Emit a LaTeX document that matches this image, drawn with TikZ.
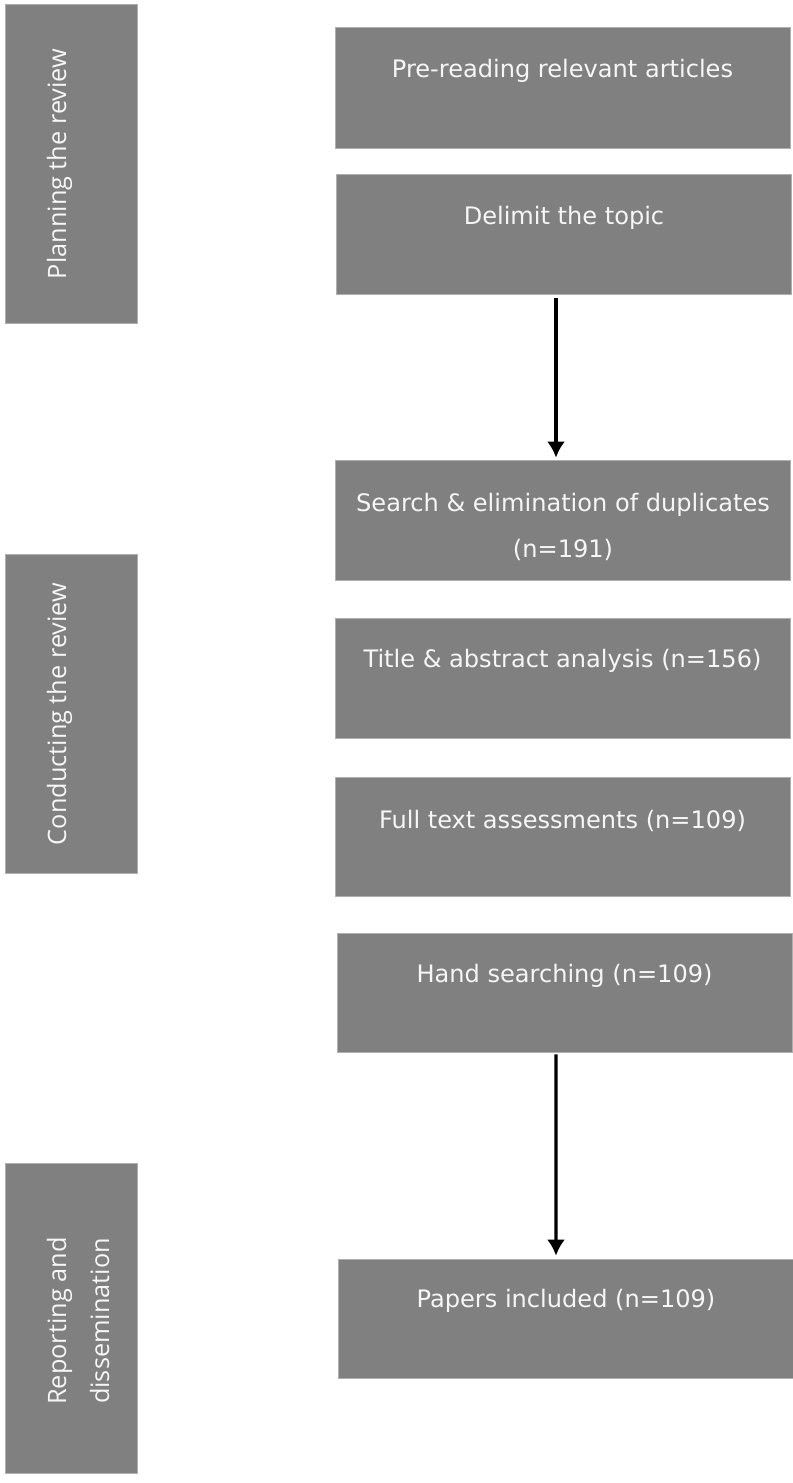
\documentclass[tikz,border=0pt]{standalone}
\usepackage{fontspec}
\newfontfamily\boxfont{DejaVu Sans}
\newfontfamily\sidefont{Open Sans}
\usetikzlibrary{arrows.meta}
\definecolor{boxgray}{RGB}{128,128,128}
\definecolor{boxedge}{RGB}{175,175,175}
\definecolor{boxtext}{RGB}{246,246,246}
\tikzset{
	phasebox/.style={fill=boxgray, draw=boxedge, line width=0.4pt, minimum width=2.64cm, inner sep=0pt},
	stepbox/.style={fill=boxgray, draw=boxedge, line width=0.4pt, minimum width=9.1cm, minimum height=2.4cm, inner sep=0pt},
	steptext/.style={text=boxtext, font=\boxfont\fontsize{13.7}{26}\selectfont, align=center, inner sep=0pt},
	sidetext/.style={text=boxtext, font=\sidefont\fontsize{14.4}{24.4}\selectfont, align=center, inner sep=0pt, rotate=90},
	flowarrow/.style={-{Latex[length=0.32cm, width=0.36cm]}, line width=1.8pt, black}
}
\begin{document}
\begin{tikzpicture}[x=0.02cm, y=-0.02cm]
				\useasboundingbox (0, 0) rectangle (793, 1483);
				
				% Phases on the left
				\node[phasebox, minimum height=6.38cm] (planning) at (71, 163.5) {};
				\node[phasebox, minimum height=6.38cm] (conducting) at (71, 713.5) {};
				\node[phasebox, minimum height=6.2cm] (reporting) at (71, 1318) {};
				\node[sidetext, anchor=base] (planningtext) at (66, 164) {Planning the review};
				\node[sidetext, anchor=base] (conductingtext) at (66, 714) {Conducting the review};
				\node[sidetext, anchor=base] (reportingtext) at (109, 1321) {Reporting and\\dissemination};
				
				% Steps on the right
				\node[stepbox, minimum height=2.42cm] (prereading) at (562.5, 87.5) {};
				\node[stepbox] (delimit) at (564, 234) {};
				\node[stepbox] (search) at (563, 520) {};
				\node[stepbox] (titleabs) at (562.5, 678) {};
				\node[stepbox, minimum height=2.38cm] (fulltext) at (562.5, 836.5) {};
				\node[stepbox, minimum height=2.38cm] (handsearch) at (564.5, 992.5) {};
				\node[stepbox, minimum height=2.38cm] (papers) at (566, 1318.5) {};
				
				% Step texts
				\node[steptext, anchor=base] at ([yshift=-1.02cm]prereading.north) {Pre-reading relevant articles};
				\node[steptext, anchor=base] at ([yshift=-1.02cm]delimit.north) {Delimit the topic};
				\node[steptext, anchor=base] at ([yshift=-1.96cm]search.north) {Search \& elimination of duplicates\\(n=191)};
				\node[steptext, anchor=base] at ([yshift=-1.0cm]titleabs.north) {Title \& abstract analysis (n=156)};
				\node[steptext, anchor=base] at ([yshift=-1.04cm]fulltext.north) {Full text assessments (n=109)};
				\node[steptext, anchor=base] at ([yshift=-1.0cm]handsearch.north) {Hand searching (n=109)};
				\node[steptext, anchor=base] at ([yshift=-0.98cm]papers.north) {Papers included (n=109)};
				
				% Arrows
				\draw[flowarrow, shorten <=0.08cm, shorten >=0.04cm] ([xshift=-0.16cm]delimit.south) -- ([xshift=-0.14cm]search.north);
				\draw[flowarrow, shorten <=0.04cm, shorten >=0.06cm] ([xshift=-0.17cm]handsearch.south) -- ([xshift=-0.2cm]papers.north);
			\end{tikzpicture}
\end{document}
